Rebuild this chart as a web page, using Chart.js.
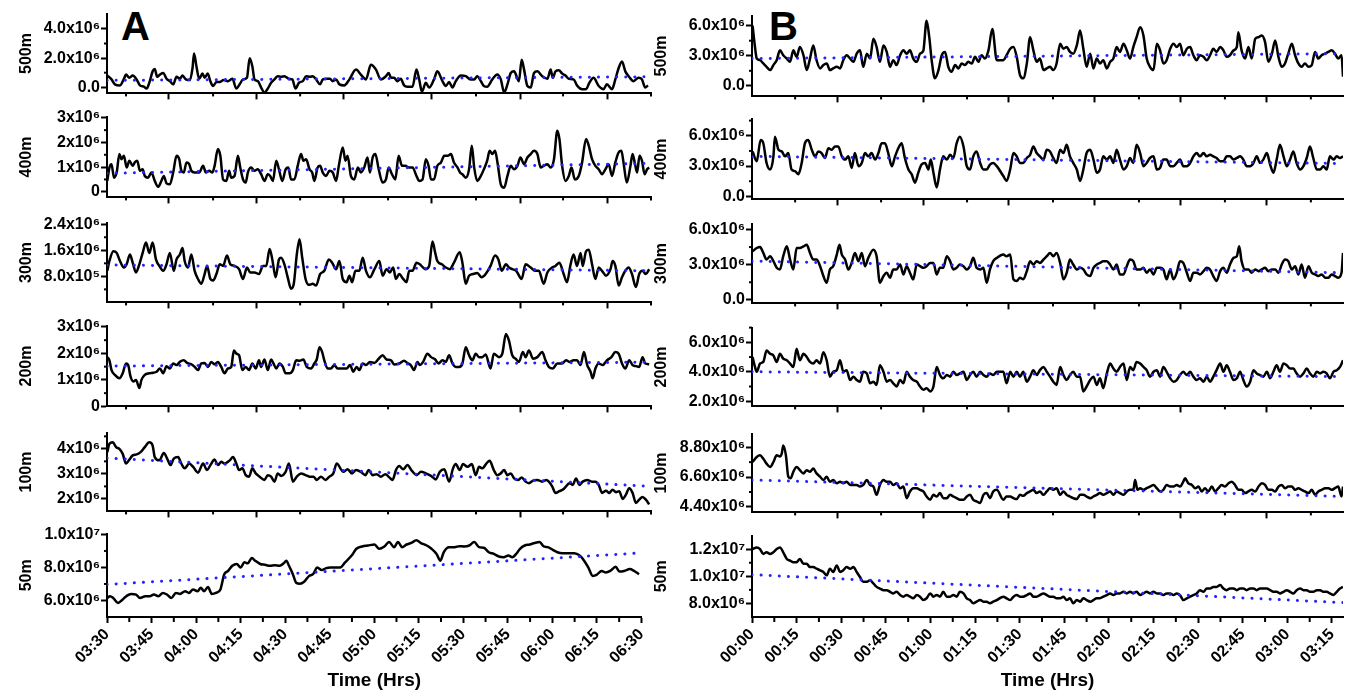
<!DOCTYPE html>
<html lang="en">
<head>
<meta charset="UTF-8">
<title>Profiles A / B</title>
<script src="https://cdn.jsdelivr.net/npm/chart.js@4.4.1/dist/chart.umd.min.js"></script>
<style>
  body { margin: 0; background: #fff; width: 1350px; height: 692px; position: relative; overflow: hidden; }
  canvas { position: absolute; }
  .tag { position: absolute; font: bold 40px "Liberation Sans", Arial, sans-serif; line-height: 40px; color: #000; }
</style>
</head>
<body>
<div class="tag" style="left:121px;top:6px">A</div>
<div class="tag" style="left:769px;top:6px">B</div>
<script>
// values are in units of 10^6, time in minutes from the start of each record
const timesA = ['03:30','03:45','04:00','04:15','04:30','04:45','05:00','05:15','05:30','05:45','06:00','06:15','06:30'];
const timesB = ['00:00','00:15','00:30','00:45','01:00','01:15','01:30','01:45','02:00','02:15','02:30','02:45','03:00','03:15'];

// tick marks on the unlabelled time axes of the upper panels
const upperLongA = [20.5, 49.6, 78.4, 107.5, 136.7, 165.7];
const upperShortA = [6.3, 35.1, 63.9, 93.0, 122.1, 150.9, 180];
const upperLongB = [28.9, 57.8, 86.4, 115.3, 144.2, 173.1];
const upperShortB = [14.5, 43.4, 72.3, 101.2, 130.1, 159.0, 187.9];

// ---- column A ----
const a500 = [[0.1,0.80],[1.5,0.54],[2.6,0.20],[4.3,0.13],[5.6,0.58],[6.3,0.87],[7.4,0.65],[8.5,0.80],[9.8,0.54],[10.9,0.13],[12.2,0.04],[13.1,-0.09],[14.0,0.31],[15.1,1.09],[15.8,1.25],[16.6,0.72],[17.5,0.87],[18.6,0.98],[19.7,0.58],[20.8,0.42],[21.9,0.20],[23.0,0.72],[24.1,0.58],[25.0,0.80],[26.1,0.54],[27.4,0.49],[28.3,1.32],[28.8,2.32],[29.6,1.43],[30.5,0.58],[31.6,0.94],[32.3,0.65],[33.3,0.94],[34.2,0.42],[35.1,0.09],[36.2,0.36],[37.3,0.36],[38.6,0.49],[40.0,0.42],[41.5,0.58],[42.8,-0.09],[43.9,0.20],[45.0,0.54],[46.3,0.65],[47.2,1.99],[48.1,1.43],[48.8,0.54],[49.9,0.42],[51.0,-0.02],[52.1,-0.36],[53.2,-0.09],[54.3,0.31],[55.4,0.54],[56.5,0.76],[57.6,0.72],[58.7,0.76],[60.2,0.58],[61.3,0.54],[62.4,-0.09],[63.5,0.31],[64.8,0.42],[65.9,0.76],[67.2,0.72],[68.1,0.76],[69.2,0.54],[70.5,0.20],[71.4,0.54],[72.5,0.58],[73.8,0.58],[74.7,0.42],[75.8,0.54],[76.9,0.20],[78.5,0.13],[80.2,0.54],[82.4,1.21],[84.0,0.87],[85.7,0.54],[87.3,1.54],[89.0,1.21],[90.6,0.54],[92.3,0.76],[93.2,0.98],[94.0,0.65],[95.0,0.65],[96.1,0.42],[97.2,0.58],[98.3,0.13],[99.4,0.04],[101.1,0.04],[102.4,1.21],[103.3,0.54],[104.2,-0.31],[105.5,0.31],[106.6,-0.02],[108.2,0.54],[109.3,1.09],[111.0,0.42],[112.1,0.09],[113.2,0.36],[114.3,-0.02],[115.4,0.42],[117.1,0.80],[118.7,0.76],[120.3,0.54],[121.5,0.54],[122.5,0.76],[123.7,0.42],[124.7,0.09],[125.8,0.04],[127.5,0.54],[129.1,0.87],[130.3,0.54],[131.4,-0.36],[132.5,0.20],[133.6,0.98],[134.7,1.09],[136.3,0.42],[137.2,1.88],[138.0,1.21],[139.1,0.09],[140.2,-0.02],[141.3,0.98],[142.4,1.09],[144.0,0.76],[145.7,0.58],[146.8,1.21],[147.5,0.65],[148.4,1.09],[149.5,1.16],[150.6,0.94],[151.7,0.80],[152.8,0.58],[154.4,0.54],[155.5,0.13],[157.2,-0.13],[158.5,-0.13],[159.6,0.31],[161.0,0.65],[162.7,0.09],[164.3,-0.13],[165.4,0.20],[167.1,-0.13],[168.2,0.54],[169.3,1.32],[170.4,1.77],[171.5,1.09],[172.6,0.76],[174.2,0.42],[175.9,0.65],[177.0,0.54],[178.1,-0.02],[179.0,0.13]];
const a500Trend = [[0, 0.47], [180, 0.72]];

const a400 = [[0.1,0.44],[0.8,0.98],[1.5,1.12],[2.3,0.57],[3.2,0.78],[4.1,1.53],[4.8,1.32],[5.6,1.46],[6.5,0.98],[7.4,1.26],[8.5,1.05],[9.2,1.19],[10.0,1.26],[10.9,0.85],[11.8,0.91],[12.5,0.64],[13.6,0.57],[14.7,0.78],[15.8,0.44],[16.9,0.20],[18.0,0.44],[18.8,0.64],[19.7,0.34],[20.8,0.30],[21.9,0.78],[23.0,1.46],[23.9,1.32],[24.6,0.85],[25.4,0.78],[26.3,1.19],[27.2,1.12],[27.9,0.85],[29.0,0.78],[30.5,0.78],[31.8,1.05],[32.7,0.78],[33.8,0.85],[34.9,0.78],[35.6,1.05],[36.7,1.73],[37.5,1.46],[38.4,0.50],[39.5,0.44],[40.4,0.85],[41.1,0.57],[42.2,0.64],[43.3,1.46],[44.1,0.98],[45.0,0.50],[45.9,0.37],[46.6,0.78],[47.7,0.98],[48.8,0.85],[49.9,0.91],[51.0,0.71],[52.1,0.44],[53.2,0.71],[54.0,0.64],[54.9,0.44],[56.0,1.26],[56.9,0.91],[58.0,0.44],[59.1,0.91],[60.0,0.98],[60.9,0.50],[62.0,0.50],[63.1,1.05],[64.2,1.53],[65.0,1.26],[65.9,1.32],[67.0,0.91],[67.9,0.78],[68.6,0.44],[69.7,0.98],[70.5,1.05],[71.4,0.78],[72.5,0.64],[73.6,0.85],[74.7,0.78],[75.8,0.44],[76.7,1.05],[78.0,1.80],[78.9,1.26],[79.6,1.46],[80.7,0.64],[81.8,0.50],[83.0,0.98],[84.0,0.78],[85.1,0.98],[86.2,1.39],[87.0,0.78],[87.9,1.39],[88.8,1.53],[89.9,0.91],[91.2,0.37],[92.3,0.50],[93.2,0.98],[94.3,0.71],[95.4,0.50],[96.5,1.46],[97.6,1.05],[98.7,1.05],[100.0,0.98],[101.1,0.98],[102.4,0.64],[103.3,0.44],[104.4,0.50],[105.5,1.32],[106.4,1.05],[107.2,0.50],[108.2,0.50],[109.3,1.05],[110.5,1.19],[111.6,1.46],[112.7,1.46],[113.8,1.53],[114.8,1.19],[116.0,0.98],[116.8,0.78],[117.6,0.71],[118.7,0.57],[119.8,0.91],[120.7,1.87],[121.5,0.98],[122.5,0.44],[123.7,0.64],[124.7,0.91],[125.8,1.26],[126.6,1.66],[127.5,1.53],[128.4,1.66],[129.2,1.19],[130.3,0.30],[131.4,0.16],[132.5,0.64],[133.6,1.05],[134.7,0.91],[135.8,1.05],[136.8,1.39],[138.0,1.12],[139.1,1.39],[140.2,1.53],[141.3,1.66],[142.4,1.53],[143.5,0.98],[144.5,1.05],[145.7,1.12],[146.8,0.98],[147.9,1.32],[149.0,2.48],[149.7,2.14],[150.6,1.05],[151.7,0.44],[152.8,0.64],[153.7,0.98],[154.8,0.50],[156.1,0.64],[157.2,1.19],[158.5,2.14],[159.4,1.87],[160.5,1.32],[161.6,1.05],[162.7,0.91],[163.8,0.71],[164.9,0.91],[166.0,1.12],[167.1,0.64],[168.2,1.19],[169.3,1.60],[170.2,1.66],[170.9,1.19],[172.0,0.37],[173.2,1.05],[173.9,1.53],[174.6,1.19],[175.4,0.78],[176.2,1.46],[177.0,1.26],[177.9,0.71],[178.7,0.91],[179.4,0.98]];
const a400Trend = [[0, 0.75], [180, 1.15]];

const a300 = [[0.1,0.97],[0.8,1.27],[2.1,1.57],[3.2,1.52],[4.3,1.27],[5.6,1.07],[6.5,1.17],[7.6,1.47],[8.5,1.22],[9.6,0.92],[10.7,1.17],[11.8,1.52],[12.9,1.84],[14.0,1.52],[15.1,1.84],[16.2,1.32],[17.3,1.12],[18.6,0.97],[19.7,1.17],[20.8,1.52],[22.1,0.97],[23.0,1.32],[24.1,1.47],[25.0,1.67],[25.7,1.27],[26.8,1.07],[27.9,1.47],[29.0,0.97],[30.1,0.72],[31.2,0.57],[32.3,0.87],[33.1,1.12],[34.2,0.72],[35.1,0.67],[36.2,0.87],[37.3,1.17],[38.4,1.12],[39.7,1.44],[40.8,1.17],[42.2,1.12],[43.7,1.02],[45.0,0.72],[46.3,1.07],[47.4,0.92],[48.8,0.92],[50.3,0.87],[51.6,1.12],[52.7,1.12],[53.8,1.64],[54.7,1.32],[55.8,0.77],[56.9,1.32],[57.6,1.37],[58.7,1.17],[59.8,0.77],[60.9,0.42],[61.8,0.57],[62.8,1.47],[63.7,1.94],[64.6,1.37],[65.7,0.72],[66.8,0.54],[68.1,0.57],[69.2,0.52],[70.5,0.87],[71.9,0.97],[73.4,1.32],[74.5,1.22],[75.8,1.02],[76.9,1.27],[78.0,0.72],[79.3,0.62],[80.2,0.82],[81.1,0.62],[82.2,0.97],[83.5,0.97],[84.6,1.37],[85.7,0.97],[87.0,0.77],[88.5,1.02],[90.1,1.27],[91.2,0.82],[92.5,1.02],[93.6,0.92],[94.7,1.07],[95.6,0.72],[96.7,0.87],[98.0,0.72],[99.1,0.62],[100.0,0.97],[101.1,0.97],[102.4,1.22],[103.5,1.17],[104.6,1.07],[105.5,1.02],[106.6,1.12],[107.7,1.87],[108.6,1.52],[109.3,1.27],[110.8,1.17],[112.1,1.07],[113.4,1.02],[114.8,1.22],[116.7,1.54],[117.6,1.22],[118.7,0.57],[119.8,0.82],[121.1,0.87],[122.5,0.90],[124.0,0.77],[125.3,0.87],[126.9,1.12],[128.4,1.44],[129.5,1.32],[130.6,0.97],[132.0,1.17],[133.0,1.07],[134.1,1.02],[135.4,0.97],[137.2,0.72],[138.5,1.17],[140.2,1.07],[141.6,0.97],[142.9,0.97],[144.5,0.57],[145.7,0.92],[147.3,1.07],[148.4,1.12],[149.7,1.22],[151.1,0.87],[152.2,0.62],[153.4,1.17],[154.4,1.47],[155.5,1.12],[156.7,1.52],[157.4,1.12],[158.5,1.57],[159.4,1.62],[160.5,1.17],[161.6,0.72],[162.7,1.07],[163.8,0.97],[165.1,0.82],[166.6,1.02],[167.3,1.27],[168.2,1.12],[169.3,0.52],[170.4,0.77],[171.5,0.97],[172.6,1.07],[173.7,0.87],[175.0,0.47],[176.1,0.87],[177.2,0.97],[178.3,0.87],[179.4,1.02]];
const a300Trend = [[0, 1.15], [180, 0.97]];

const a200 = [[0.1,1.86],[0.8,1.74],[1.5,1.37],[2.6,1.19],[4.1,1.06],[5.2,1.25],[6.3,1.62],[7.0,1.56],[7.8,1.12],[8.7,0.94],[9.6,1.00],[10.7,0.69],[11.4,1.00],[12.5,1.19],[14.0,1.25],[15.3,1.27],[16.4,1.31],[17.5,1.43],[18.6,1.25],[19.7,1.52],[20.8,1.43],[21.9,1.62],[23.0,1.56],[24.1,1.68],[25.4,1.74],[26.5,1.64],[27.9,1.59],[29.0,1.49],[30.1,1.37],[31.2,1.62],[32.3,1.64],[33.4,1.49],[34.5,1.68],[35.6,1.59],[36.7,1.68],[37.8,1.49],[38.9,1.25],[40.0,1.43],[41.1,1.49],[42.0,2.11],[42.8,1.99],[43.7,1.93],[44.8,1.37],[45.9,1.49],[47.0,1.37],[48.1,1.62],[49.2,1.43],[50.3,1.74],[51.0,1.49],[52.1,1.77],[53.2,1.37],[54.3,1.77],[55.1,1.62],[56.0,1.43],[57.1,1.62],[58.2,1.49],[59.1,1.25],[60.4,1.25],[61.5,1.37],[62.6,1.74],[63.7,1.72],[65.0,1.77],[66.1,1.49],[67.5,1.43],[68.6,1.62],[69.4,1.77],[70.3,2.23],[71.2,2.05],[71.9,1.74],[73.0,1.43],[74.1,1.43],[75.2,1.56],[76.3,1.43],[78.0,1.43],[79.3,1.43],[80.4,1.56],[81.5,1.31],[82.6,1.49],[83.5,1.37],[84.6,1.62],[85.7,1.56],[87.0,1.68],[88.5,1.64],[89.9,1.80],[91.2,1.93],[92.5,1.77],[94.0,1.74],[95.0,1.58],[96.7,1.62],[98.3,1.72],[99.4,1.64],[100.5,1.56],[101.6,1.37],[102.7,1.68],[103.5,1.56],[104.6,1.68],[106.0,1.99],[107.2,1.86],[108.6,1.77],[109.7,1.62],[111.0,1.74],[112.1,1.68],[113.2,1.93],[114.3,1.62],[115.4,1.49],[116.5,1.49],[117.6,1.62],[118.7,2.23],[119.8,1.93],[120.9,1.74],[122.0,1.99],[123.1,1.86],[124.2,1.86],[125.3,1.96],[126.9,1.43],[128.0,1.99],[129.7,1.86],[130.8,1.99],[132.0,2.73],[133.0,2.48],[134.1,1.93],[135.2,1.80],[136.3,1.68],[137.6,2.05],[138.5,1.86],[139.6,2.11],[141.0,1.80],[142.4,1.86],[144.0,2.05],[145.1,1.74],[146.2,1.49],[147.5,1.43],[149.0,1.62],[150.6,1.62],[151.9,1.74],[153.0,1.68],[154.4,1.74],[155.5,1.74],[156.7,1.56],[157.8,2.05],[158.9,1.56],[160.0,1.31],[160.7,1.06],[161.6,1.43],[162.7,1.62],[164.0,1.56],[165.4,1.74],[166.9,1.86],[168.2,2.05],[169.3,1.99],[170.4,1.62],[171.5,1.43],[172.8,1.74],[173.9,1.56],[175.0,1.52],[176.1,1.49],[177.2,1.86],[178.1,1.62],[179.4,1.59]];
const a200Trend = [[0, 1.52], [180, 1.67]];

const a100 = [[0.1,3.87],[0.8,4.20],[1.9,4.26],[3.0,4.07],[4.1,4.00],[5.2,3.80],[6.3,3.41],[7.4,3.57],[8.5,3.74],[9.8,3.78],[11.1,3.87],[12.5,4.07],[14.0,4.26],[15.1,4.13],[15.8,3.67],[17.3,3.54],[18.8,3.83],[19.9,3.61],[21.0,3.35],[22.1,3.61],[23.5,3.67],[24.6,3.41],[25.7,3.22],[27.2,3.41],[28.5,3.28],[30.1,3.05],[31.8,3.41],[33.1,3.15],[34.2,3.35],[35.6,3.57],[36.7,3.35],[37.8,3.48],[38.9,3.41],[40.6,3.54],[41.7,3.67],[42.8,3.41],[43.7,3.15],[44.8,3.22],[45.9,2.95],[47.0,2.89],[48.1,3.22],[49.2,3.02],[50.5,2.89],[52.1,2.76],[53.2,2.95],[54.3,2.89],[55.4,2.69],[56.5,3.02],[57.6,2.92],[59.1,3.08],[60.2,3.41],[61.5,2.69],[62.8,2.89],[64.2,3.02],[65.7,2.95],[67.0,2.89],[68.3,2.89],[69.4,2.76],[70.8,2.89],[72.3,2.76],[73.6,2.89],[74.9,3.02],[76.0,3.41],[78.2,3.08],[79.6,3.18],[81.1,3.02],[82.4,3.15],[84.0,3.08],[85.5,2.95],[86.6,3.15],[87.9,2.95],[89.2,2.99],[90.6,2.89],[92.1,2.99],[93.4,2.86],[94.5,2.76],[95.6,3.15],[96.7,3.31],[98.0,3.18],[99.4,3.35],[100.9,3.12],[102.4,2.95],[103.9,3.08],[105.5,3.02],[107.2,2.92],[108.8,2.78],[110.1,3.08],[111.6,3.18],[113.2,2.69],[114.5,3.22],[115.4,3.39],[116.7,3.15],[117.8,3.39],[119.3,3.28],[120.7,3.39],[122.0,2.95],[123.1,3.28],[124.2,3.22],[125.5,3.41],[126.6,3.52],[128.0,3.15],[129.1,2.95],[130.3,3.02],[131.4,3.15],[132.5,2.95],[133.6,3.02],[134.7,2.82],[136.1,2.76],[137.2,2.86],[138.5,2.69],[139.6,2.63],[141.0,2.73],[142.4,2.76],[144.0,2.69],[145.4,2.76],[146.2,2.69],[147.3,2.50],[148.4,2.24],[149.7,2.31],[150.8,2.37],[151.9,2.50],[153.0,2.63],[154.1,2.56],[155.2,2.82],[156.3,2.56],[157.4,2.69],[158.9,2.76],[160.5,2.69],[161.6,2.69],[162.7,2.56],[163.8,2.24],[165.1,2.33],[166.2,2.24],[167.3,2.37],[168.4,2.27],[169.5,2.31],[170.6,2.00],[171.7,2.17],[172.8,2.43],[173.9,2.24],[175.0,1.84],[176.1,1.97],[177.2,2.08],[178.3,1.97],[179.4,1.78]];
const a100Trend = [[0, 3.63], [180, 2.50]];

const a50 = [[0.1,6.15],[1.0,6.26],[2.1,6.15],[3.7,5.85],[5.2,6.05],[6.5,6.26],[8.1,6.40],[9.8,6.36],[11.1,6.15],[12.9,6.26],[14.4,6.26],[15.8,6.36],[17.3,6.26],[18.8,6.46],[20.2,6.36],[21.7,6.15],[23.2,6.46],[24.6,6.40],[26.3,6.56],[27.6,6.46],[29.0,6.67],[30.5,6.56],[31.6,6.77],[32.7,6.56],[34.0,6.81],[35.3,6.40],[36.7,6.46],[38.2,6.67],[39.5,7.59],[40.8,7.79],[42.2,8.10],[43.7,8.21],[45.0,8.00],[46.3,8.31],[47.4,8.25],[48.8,8.57],[49.9,8.41],[51.6,8.21],[53.2,8.16],[54.9,8.10],[56.5,8.14],[58.2,8.10],[59.5,8.25],[60.4,8.41],[61.3,8.10],[62.6,7.59],[63.7,7.08],[65.0,7.02],[66.4,7.14],[68.1,7.49],[69.4,7.59],[70.8,8.00],[72.3,7.84],[73.8,7.96],[75.2,8.00],[76.9,8.00],[78.5,8.00],[80.2,8.31],[82.4,8.72],[84.0,9.13],[85.9,9.27],[87.9,9.33],[90.1,9.39],[91.7,9.13],[93.4,9.27],[95.0,9.54],[96.7,9.23],[98.0,9.54],[99.4,9.23],[100.9,9.39],[102.4,9.48],[104.2,9.64],[105.7,9.48],[107.7,9.33],[109.3,9.13],[111.0,8.82],[112.3,8.41],[113.4,8.92],[115.2,9.23],[117.1,9.23],[118.7,9.29],[120.3,9.27],[122.0,9.33],[123.7,9.54],[125.3,9.23],[126.9,9.19],[128.6,8.92],[130.3,8.82],[132.0,8.66],[133.6,8.62],[135.2,8.72],[136.5,8.62],[138.0,8.86],[139.1,9.13],[140.7,9.33],[142.4,9.39],[144.0,9.48],[145.7,9.54],[147.1,9.27],[148.4,9.23],[150.1,9.07],[151.7,8.92],[153.4,8.86],[155.5,8.86],[157.4,8.86],[159.2,8.72],[160.7,8.41],[162.1,8.00],[163.6,7.49],[164.9,7.55],[166.6,7.79],[168.0,7.69],[169.5,7.79],[171.3,8.04],[172.6,7.75],[174.2,7.79],[176.1,7.90],[177.5,7.79],[179.2,7.59]];
const a50Trend = [[0, 6.97], [180, 8.88]];

// ---- column B ----
const b500 = [[0.2,6.0],[1.0,3.87],[1.6,2.72],[2.7,2.56],[3.8,2.23],[4.9,1.90],[6.1,1.57],[7.2,2.07],[8.3,2.56],[9.4,3.54],[10.5,3.05],[11.7,2.72],[12.8,2.39],[13.9,3.54],[15.0,2.89],[16.1,3.87],[17.3,3.05],[18.4,1.57],[19.5,2.72],[20.6,4.03],[21.7,2.56],[22.9,1.74],[24.0,2.07],[25.1,2.23],[26.2,1.57],[27.3,1.74],[28.5,1.90],[29.6,1.74],[30.7,2.56],[31.8,3.05],[33.0,2.72],[34.1,2.39],[35.2,3.21],[36.3,3.54],[37.4,1.90],[38.6,3.21],[39.7,2.72],[40.8,4.69],[41.9,3.87],[43.0,2.39],[44.2,4.03],[45.3,3.38],[46.4,1.90],[47.5,2.56],[48.6,2.07],[49.8,3.05],[50.9,3.54],[52.0,3.21],[53.1,3.54],[54.2,2.72],[55.4,2.39],[56.5,3.21],[57.6,3.50],[58.7,6.49],[59.6,4.85],[60.4,2.56],[61.5,0.75],[62.7,1.57],[63.8,3.05],[64.9,3.38],[66.0,1.90],[67.1,1.41],[68.3,2.07],[69.4,1.74],[70.5,2.23],[71.6,2.07],[72.7,2.39],[73.9,2.23],[75.0,2.89],[76.1,2.39],[77.2,3.05],[78.3,2.72],[79.5,3.54],[80.8,5.67],[82.3,2.56],[84.5,2.56],[85.6,3.05],[86.8,3.70],[87.9,3.87],[89.0,2.89],[90.1,1.08],[91.2,0.75],[92.4,2.23],[93.5,4.85],[94.6,3.54],[95.7,2.39],[96.8,2.72],[98.0,1.57],[99.1,1.74],[100.2,1.90],[101.3,1.57],[102.4,2.23],[103.6,4.20],[104.7,3.70],[105.8,3.87],[106.9,3.38],[108.0,3.21],[109.2,4.03],[110.3,5.51],[111.4,3.70],[112.5,1.90],[113.7,3.21],[114.8,1.74],[115.9,2.72],[117.0,2.23],[118.1,2.56],[119.3,1.74],[120.4,2.39],[121.5,2.72],[122.6,3.87],[123.7,3.38],[124.9,4.20],[126.0,3.54],[127.1,2.72],[128.2,3.87],[129.3,4.85],[130.5,5.84],[131.6,5.02],[132.7,2.72],[133.8,1.90],[135.0,1.57],[136.1,4.20],[137.2,3.54],[138.3,2.23],[139.4,2.56],[140.6,3.70],[141.7,4.20],[142.8,3.87],[143.9,4.20],[145.0,3.05],[146.2,3.70],[147.3,3.87],[148.4,3.05],[149.5,2.56],[150.6,3.05],[151.8,2.89],[152.9,2.56],[154.0,3.05],[155.1,3.70],[156.2,3.38],[157.4,3.87],[158.5,3.54],[159.6,2.89],[160.7,3.05],[161.9,3.54],[163.0,3.87],[163.5,5.34],[164.6,3.54],[165.8,2.72],[166.9,3.87],[168.0,2.72],[169.2,4.69],[170.3,4.85],[171.4,5.02],[172.5,4.36],[173.6,2.39],[174.8,3.21],[175.9,4.52],[177.0,2.89],[178.1,1.90],[179.2,2.23],[180.3,3.21],[181.5,4.20],[182.6,3.05],[183.7,2.23],[184.8,1.90],[185.9,2.23],[187.1,1.90],[188.2,2.07],[189.3,3.38],[190.4,2.72],[191.5,3.05],[192.7,3.21],[193.8,3.38],[194.9,3.54],[196.0,3.21],[197.1,2.72],[198.2,3.05],[198.7,0.92]];
const b500Trend = [[0, 2.72], [198.7, 3.21]];

const b400 = [[0.2,4.45],[1.6,3.47],[2.9,5.58],[3.8,5.26],[4.9,3.31],[6.1,2.66],[7.2,3.96],[7.7,5.91],[8.9,4.61],[10.0,4.45],[11.1,3.96],[12.2,4.29],[13.3,2.66],[14.5,2.50],[15.6,2.18],[16.7,3.31],[17.8,5.26],[18.9,5.58],[20.1,4.61],[21.2,3.96],[22.3,4.45],[23.4,4.29],[24.5,3.80],[25.7,4.77],[26.8,4.61],[27.9,4.94],[29.0,4.94],[30.2,3.96],[31.3,3.64],[32.4,3.96],[33.5,2.82],[34.6,4.29],[35.8,2.99],[36.9,3.31],[38.0,4.29],[39.1,3.96],[40.2,4.29],[41.4,3.64],[42.5,4.29],[43.6,5.26],[44.7,5.26],[45.8,4.29],[47.0,2.99],[48.1,3.96],[49.2,4.77],[50.3,5.26],[51.4,3.80],[52.6,2.66],[53.7,2.18],[54.8,1.36],[55.9,2.34],[57.0,3.15],[58.2,3.31],[59.3,2.66],[60.1,3.64],[61.0,2.34],[62.1,0.88],[63.2,2.66],[64.3,3.96],[65.5,3.64],[66.6,4.12],[67.7,3.80],[68.8,5.26],[69.9,5.91],[71.1,4.94],[72.2,2.99],[73.3,2.66],[74.4,3.96],[75.5,4.45],[76.7,3.31],[77.8,2.66],[78.9,2.66],[80.0,3.15],[81.1,3.31],[82.3,2.99],[84.5,2.01],[85.6,1.53],[86.8,2.66],[87.9,4.29],[89.0,3.96],[90.1,3.31],[91.2,3.31],[92.4,3.80],[93.5,4.12],[94.6,4.94],[95.7,4.29],[96.8,3.96],[98.0,3.64],[99.1,4.61],[100.2,4.45],[101.3,3.80],[102.4,3.31],[103.6,4.61],[104.7,4.29],[105.8,5.10],[106.9,3.96],[108.0,3.31],[109.2,2.66],[110.3,1.53],[111.4,2.66],[112.5,4.29],[113.7,4.61],[114.8,3.64],[115.9,2.34],[117.0,2.66],[118.1,3.96],[119.3,3.64],[120.4,3.96],[121.5,3.31],[122.6,4.61],[123.7,3.64],[124.9,2.66],[126.0,2.99],[127.1,3.80],[128.2,3.31],[129.3,5.10],[130.5,4.29],[131.6,2.99],[132.7,3.31],[133.8,3.80],[135.0,3.96],[136.1,2.66],[137.2,2.82],[138.3,3.64],[139.4,3.64],[140.6,2.99],[141.7,2.99],[142.8,3.31],[143.9,3.64],[145.0,2.99],[146.2,2.99],[147.3,3.31],[148.4,3.96],[149.5,4.29],[150.6,3.96],[151.8,4.29],[152.9,3.96],[154.0,4.12],[155.1,3.96],[156.2,3.80],[157.4,3.47],[158.5,3.47],[159.6,3.96],[160.7,3.96],[161.9,3.64],[163.0,3.80],[164.1,3.96],[165.2,3.64],[166.3,2.99],[167.5,2.99],[168.6,3.31],[169.7,3.96],[170.8,3.31],[171.9,3.64],[173.1,4.29],[174.2,3.15],[175.3,2.34],[176.4,3.64],[177.5,5.10],[178.7,3.96],[179.8,2.99],[180.9,3.64],[182.0,4.45],[183.1,3.31],[184.3,2.66],[185.4,2.99],[186.5,3.80],[187.6,4.94],[188.7,3.80],[189.9,2.66],[191.0,2.66],[192.1,2.99],[193.2,2.66],[194.3,3.96],[195.5,3.64],[196.6,3.96],[197.7,3.80],[198.7,3.96]];
const b400Trend = [[0, 3.96], [198.7, 3.25]];

const b300 = [[0.2,4.14],[1.6,4.42],[2.7,4.51],[3.8,4.00],[4.9,3.44],[6.1,3.72],[7.2,3.30],[8.3,2.73],[9.4,2.59],[10.5,3.72],[11.7,4.56],[12.8,3.44],[13.9,2.59],[15.0,4.42],[16.1,4.42],[17.3,4.56],[18.4,4.70],[19.5,4.00],[20.6,3.44],[21.7,3.44],[22.9,2.87],[24.0,2.03],[25.1,1.46],[26.2,2.59],[27.3,2.87],[28.5,3.86],[29.4,4.70],[30.2,3.86],[31.3,3.44],[32.4,2.59],[33.5,3.15],[34.6,4.00],[35.8,3.30],[36.9,4.00],[38.0,2.87],[39.1,3.58],[40.8,4.28],[41.9,3.72],[43.0,1.46],[44.2,2.03],[45.3,2.31],[46.4,1.89],[47.5,2.59],[48.6,2.59],[49.8,3.01],[50.9,2.17],[52.0,2.87],[53.1,2.31],[54.2,1.75],[55.4,3.01],[56.5,2.87],[57.6,2.73],[58.7,2.87],[59.9,3.15],[61.0,3.15],[62.1,2.17],[63.2,2.73],[64.3,2.73],[65.5,3.72],[66.6,3.30],[67.7,2.59],[68.8,2.73],[69.9,3.01],[71.1,2.87],[72.2,2.59],[73.3,2.87],[74.4,3.58],[75.5,2.73],[76.7,2.59],[77.8,2.73],[78.9,1.46],[80.0,2.59],[81.1,3.30],[82.3,3.58],[84.5,3.86],[85.6,3.72],[86.8,3.86],[87.9,1.75],[89.0,1.61],[90.1,1.89],[91.2,1.75],[92.4,2.45],[93.5,3.30],[94.6,3.01],[95.7,3.30],[96.8,3.15],[98.0,3.44],[99.1,3.72],[100.2,4.00],[101.3,3.72],[102.4,4.00],[103.6,3.15],[104.7,1.75],[105.8,2.31],[106.9,3.44],[108.0,3.01],[109.2,2.59],[110.3,2.73],[111.4,2.59],[112.5,2.17],[113.7,2.03],[114.8,2.73],[115.9,3.01],[117.0,3.15],[118.1,3.30],[119.3,3.30],[120.4,3.01],[121.5,2.59],[122.6,3.01],[123.7,2.17],[124.9,2.17],[126.0,2.87],[127.1,3.44],[128.2,3.30],[129.3,2.59],[130.5,2.59],[131.6,2.73],[132.7,2.31],[133.8,2.59],[135.0,2.17],[136.1,2.73],[137.2,2.73],[138.3,2.59],[139.4,1.75],[140.6,2.59],[141.7,1.75],[142.8,2.31],[143.9,3.30],[145.0,3.15],[146.2,2.31],[147.3,1.61],[148.4,2.31],[149.5,2.31],[150.6,2.17],[151.8,2.45],[152.9,2.73],[154.0,2.59],[155.1,2.03],[156.2,1.61],[157.4,2.45],[158.5,2.73],[159.6,2.31],[160.7,3.01],[161.9,3.58],[163.0,3.72],[163.8,4.56],[164.6,3.30],[165.8,2.59],[166.9,2.59],[168.0,2.31],[169.2,2.59],[170.3,2.45],[171.4,2.59],[172.5,2.73],[173.6,2.45],[174.8,2.59],[175.9,2.59],[177.0,2.31],[178.1,3.01],[179.2,3.44],[180.3,3.30],[181.5,2.59],[182.6,2.87],[183.7,2.17],[184.8,3.01],[185.9,1.89],[187.1,2.87],[188.2,2.31],[189.3,2.17],[190.4,2.03],[191.5,2.17],[192.7,1.89],[193.8,1.89],[194.9,2.17],[196.0,2.03],[197.1,1.89],[198.2,2.31],[198.7,4.00]];
const b300Trend = [[0, 3.30], [198.7, 2.31]];

const b200 = [[0.2,5.0],[1.0,4.33],[1.6,4.0],[2.7,4.56],[3.8,4.67],[4.9,5.44],[6.1,5.22],[7.2,5.11],[8.3,4.67],[9.4,5.22],[10.5,4.89],[11.7,4.78],[12.8,4.56],[13.9,4.33],[15.0,5.56],[16.1,4.78],[17.3,5.22],[18.4,5.0],[19.5,4.67],[20.6,4.56],[21.7,4.78],[22.9,4.56],[24.0,5.33],[25.1,4.78],[26.2,3.67],[27.3,4.0],[28.5,4.11],[29.6,4.78],[30.7,4.0],[31.8,4.11],[33.0,3.44],[34.1,3.67],[35.2,3.44],[36.3,3.33],[37.4,4.0],[38.6,3.89],[39.7,3.22],[40.8,3.33],[41.9,3.11],[43.0,4.44],[44.2,4.0],[45.3,3.33],[46.4,3.44],[47.5,3.22],[48.6,3.0],[49.8,3.44],[50.9,3.22],[52.0,4.0],[53.1,3.67],[54.2,3.44],[55.4,3.33],[56.5,3.0],[57.6,2.78],[58.7,2.89],[59.9,2.67],[61.0,3.0],[62.1,4.33],[63.2,3.78],[64.3,3.56],[65.5,3.78],[66.6,3.67],[67.7,4.0],[68.8,3.78],[69.9,3.89],[71.1,4.0],[72.2,3.44],[73.3,3.78],[74.4,4.0],[75.5,3.67],[76.7,4.0],[77.8,3.78],[78.9,3.67],[80.0,3.89],[81.1,3.78],[82.3,4.0],[84.5,4.0],[85.6,3.22],[86.8,4.0],[87.9,3.67],[89.0,4.0],[90.1,3.67],[91.2,4.0],[92.4,3.33],[93.5,3.67],[94.6,4.11],[95.7,3.78],[96.8,4.11],[98.0,4.33],[99.1,4.0],[100.2,3.67],[101.3,3.33],[102.4,3.11],[103.6,4.33],[104.7,3.78],[105.8,3.44],[106.9,3.78],[108.0,4.0],[109.2,3.67],[110.3,3.67],[111.4,2.67],[112.5,3.0],[113.7,3.44],[114.8,3.67],[115.9,3.11],[117.0,3.56],[118.1,2.89],[119.3,3.89],[120.4,4.56],[121.5,4.22],[122.6,4.0],[123.7,4.33],[124.9,4.56],[126.0,3.44],[127.1,4.33],[128.2,4.11],[129.3,4.67],[130.5,4.56],[131.6,4.33],[132.7,4.11],[133.8,3.67],[135.0,4.0],[136.1,4.11],[137.2,3.67],[138.3,4.33],[139.4,4.0],[140.6,3.56],[141.7,3.33],[142.8,3.44],[143.9,3.78],[145.0,4.0],[146.2,3.78],[147.3,4.0],[148.4,3.67],[149.5,3.44],[150.6,3.56],[151.8,3.33],[152.9,3.67],[154.0,3.33],[155.1,3.67],[156.2,4.11],[157.4,4.56],[158.5,4.0],[159.6,4.44],[160.7,4.0],[161.9,3.44],[163.0,3.56],[164.1,4.0],[165.2,3.44],[166.3,3.0],[167.5,3.33],[168.6,4.11],[169.7,3.89],[170.8,3.78],[171.9,3.67],[173.1,4.0],[174.2,3.56],[175.3,4.0],[176.4,4.44],[177.5,4.0],[178.7,4.56],[179.8,4.44],[180.9,4.22],[182.0,4.22],[183.1,3.89],[184.3,3.67],[185.4,3.89],[186.5,4.22],[187.6,3.89],[188.7,3.67],[189.9,4.0],[191.0,3.89],[192.1,4.0],[193.2,3.89],[194.3,3.56],[195.5,4.0],[196.6,4.11],[197.7,4.33],[198.7,4.78]];
const b200Trend = [[0, 4.0], [198.7, 3.67]];

const b100 = [[0.2,7.71],[1.6,8.08],[2.7,8.20],[3.8,7.95],[4.9,7.59],[6.1,7.35],[7.2,7.71],[8.3,8.20],[9.4,8.12],[10.0,8.32],[10.5,8.92],[11.4,8.20],[12.2,6.63],[13.0,6.51],[13.9,6.99],[15.0,7.35],[16.1,7.11],[17.3,6.87],[18.4,7.11],[19.5,6.99],[20.6,7.23],[21.7,6.87],[22.9,6.63],[24.0,6.38],[25.1,6.63],[26.2,6.26],[27.3,6.38],[28.5,6.14],[29.6,6.26],[30.7,6.14],[31.8,6.26],[33.0,6.02],[34.1,6.02],[35.2,6.02],[36.3,5.90],[37.4,6.02],[38.6,6.38],[39.7,6.02],[40.8,5.90],[41.9,5.29],[43.0,6.02],[44.2,6.38],[45.3,6.26],[46.4,6.26],[47.5,6.02],[48.6,6.14],[49.8,5.78],[50.9,5.90],[52.0,5.05],[53.1,5.54],[54.2,5.78],[55.4,5.78],[56.5,5.66],[57.6,5.54],[58.7,5.17],[59.9,4.93],[61.0,5.29],[62.1,5.17],[63.2,5.42],[64.3,5.05],[65.5,5.05],[66.6,5.29],[67.7,5.17],[68.8,5.05],[69.9,4.93],[71.1,4.93],[72.2,5.17],[73.3,5.29],[74.4,4.93],[75.5,4.81],[76.7,4.69],[77.8,5.29],[78.9,5.42],[80.0,5.05],[81.1,5.54],[82.3,5.66],[84.5,4.93],[85.6,5.17],[86.8,5.17],[87.9,5.05],[89.0,4.98],[90.1,5.29],[91.2,5.22],[92.4,5.42],[93.5,5.54],[94.6,5.66],[95.7,5.42],[96.8,5.54],[98.0,5.29],[99.1,5.54],[100.2,5.78],[101.3,5.66],[102.4,5.78],[103.6,5.29],[104.7,5.54],[105.8,5.29],[106.9,5.17],[108.0,5.05],[109.2,4.98],[110.3,5.29],[111.4,5.29],[112.5,5.17],[113.7,5.05],[114.8,5.17],[115.9,5.29],[117.0,5.42],[118.1,5.29],[119.3,5.42],[120.4,5.54],[121.5,5.29],[122.6,5.54],[123.7,5.42],[124.9,5.29],[126.0,5.54],[127.1,5.66],[128.2,5.66],[128.8,6.38],[129.6,5.66],[130.5,5.78],[131.6,5.66],[132.7,5.78],[133.8,5.90],[135.0,6.02],[136.1,5.78],[137.2,5.54],[138.3,5.66],[139.4,6.02],[140.6,5.90],[141.7,5.90],[142.8,6.02],[143.9,5.90],[145.0,6.26],[145.6,6.51],[146.7,6.14],[147.9,6.02],[149.0,5.78],[150.1,5.90],[151.2,5.54],[152.3,5.78],[153.4,5.54],[154.6,5.90],[155.7,5.54],[156.8,5.78],[157.9,6.02],[159.0,5.90],[160.2,6.14],[161.3,6.26],[162.4,6.02],[163.5,5.66],[164.6,5.66],[165.8,5.42],[166.9,5.54],[168.0,5.66],[169.2,5.54],[170.3,5.90],[171.4,6.14],[172.5,6.02],[173.6,5.66],[174.8,5.66],[175.9,5.54],[177.0,5.90],[178.1,6.02],[179.2,5.78],[180.3,5.90],[181.5,5.90],[182.6,5.66],[183.7,5.78],[184.8,5.66],[185.9,5.54],[187.1,5.42],[188.2,5.66],[189.3,5.29],[190.4,5.54],[191.5,5.66],[192.7,5.78],[193.8,5.78],[194.9,5.66],[196.0,5.78],[197.1,5.90],[198.2,5.17],[198.7,5.90]];
const b100Trend = [[0, 6.38], [198.7, 5.17]];

const b50 = [[0.2,12.01],[1.6,12.13],[2.7,12.01],[3.8,11.65],[4.9,11.77],[6.1,11.65],[7.2,11.77],[8.3,12.01],[9.4,12.13],[10.5,11.77],[11.7,11.28],[12.8,11.16],[13.9,11.04],[15.0,11.04],[16.1,11.28],[17.3,10.92],[18.4,10.92],[19.5,10.68],[20.6,10.68],[21.7,10.56],[22.9,10.44],[24.0,10.32],[25.1,10.07],[26.2,10.56],[27.3,10.32],[28.5,10.80],[29.6,10.32],[30.7,10.44],[31.8,10.68],[33.0,10.56],[34.1,10.68],[35.2,10.32],[36.3,9.95],[37.4,9.59],[38.6,9.59],[39.7,9.71],[40.8,9.47],[41.9,9.22],[43.0,9.10],[44.2,8.98],[45.3,8.98],[46.4,8.86],[47.5,8.74],[48.6,8.86],[49.8,8.62],[50.9,8.50],[52.0,8.62],[53.1,8.50],[54.2,8.38],[55.4,8.62],[56.5,8.50],[57.6,8.25],[58.7,8.38],[59.9,8.74],[61.0,8.50],[62.1,8.62],[63.2,8.50],[64.3,8.86],[65.5,8.50],[66.6,8.50],[67.7,8.62],[68.8,8.50],[69.9,8.86],[71.1,8.74],[72.2,8.38],[73.3,8.25],[74.4,8.01],[75.5,8.13],[76.7,8.25],[77.8,8.13],[78.9,8.13],[80.0,8.01],[81.1,8.13],[82.3,8.25],[84.5,8.50],[85.6,8.38],[86.8,8.25],[87.9,8.50],[89.0,8.62],[90.1,8.50],[91.2,8.50],[92.4,8.62],[93.5,8.74],[94.6,8.50],[95.7,8.50],[96.8,8.62],[98.0,8.74],[99.1,8.62],[100.2,8.50],[101.3,8.50],[102.4,8.38],[103.6,8.38],[104.7,8.50],[105.8,8.25],[106.9,8.38],[108.0,8.01],[109.2,8.25],[110.3,8.13],[111.4,8.38],[112.5,8.25],[113.7,8.13],[114.8,8.25],[115.9,8.38],[117.0,8.38],[118.1,8.50],[119.3,8.62],[120.4,8.74],[121.5,8.62],[122.6,8.74],[123.7,8.74],[124.9,8.86],[126.0,8.74],[127.1,8.86],[128.2,8.74],[129.3,8.86],[130.5,8.62],[131.6,8.74],[132.7,8.86],[133.8,8.74],[135.0,8.86],[136.1,8.74],[137.2,8.74],[138.3,8.62],[139.4,8.74],[140.6,8.74],[141.7,8.62],[142.8,8.74],[143.9,8.62],[145.0,8.25],[146.2,8.38],[147.3,8.50],[148.4,8.62],[149.5,8.74],[150.6,8.98],[151.8,8.86],[152.9,9.10],[154.0,9.10],[155.1,9.22],[156.2,9.22],[157.4,9.35],[158.5,9.10],[159.6,8.98],[160.7,9.10],[161.9,9.10],[163.0,8.98],[164.1,9.10],[165.2,9.10],[166.3,8.98],[167.5,9.10],[168.6,9.10],[169.7,8.98],[170.8,9.10],[171.9,9.10],[173.1,9.10],[174.2,8.98],[175.3,8.86],[176.4,8.86],[177.5,8.74],[178.7,8.86],[179.8,8.98],[180.9,8.86],[182.0,8.74],[183.1,8.98],[184.3,9.10],[185.4,8.98],[186.5,8.98],[187.6,8.86],[188.7,8.86],[189.9,8.98],[191.0,8.98],[192.1,8.86],[193.2,8.86],[194.3,8.74],[195.5,8.62],[196.6,8.86],[197.7,9.10],[198.7,9.22]];
const b50Trend = [[0, 10.12], [198.7, 8.06]];

// y axes: range, labelled ticks, their labels, unlabelled minor ticks
const a500Axis = { range: [-0.42, 5.05], ticks: [0, 2, 4], labels: ['0.0', '2.0x10⁶', '4.0x10⁶'], minor: [1, 3] };
const a400Axis = { range: [-0.23, 3.05], ticks: [0, 1, 2, 3], labels: ['0', '1x10⁶', '2x10⁶', '3x10⁶'], minor: [0.5, 1.5, 2.5] };
const a300Axis = { range: [0, 2.45], ticks: [0.8, 1.6, 2.4], labels: ['8.0x10⁵', '1.6x10⁶', '2.4x10⁶'], minor: [0.4, 1.2, 2.0] };
const a200Axis = { range: [0, 3.05], ticks: [0, 1, 2, 3], labels: ['0', '1x10⁶', '2x10⁶', '3x10⁶'], minor: [0.5, 1.5, 2.5] };
const a100Axis = { range: [1.5, 4.65], ticks: [2, 3, 4], labels: ['2x10⁶', '3x10⁶', '4x10⁶'], minor: [2.5, 3.5, 4.5] };
const a50Axis = { range: [5, 10.05], ticks: [6, 8, 10], labels: ['6.0x10⁶', '8.0x10⁶', '1.0x10⁷'], minor: [7, 9] };
const b500Axis = { range: [-1.05, 7.0], ticks: [0, 3, 6], labels: ['0.0', '3.0x10⁶', '6.0x10⁶'], minor: [1.5, 4.5] };
const b400Axis = { range: [-0.3, 7.7], ticks: [0, 3, 6], labels: ['0.0', '3.0x10⁶', '6.0x10⁶'], minor: [1.5, 4.5, 7.5] };
const b300Axis = { range: [-0.3, 6.5], ticks: [0, 3, 6], labels: ['0.0', '3.0x10⁶', '6.0x10⁶'], minor: [1.5, 4.5] };
const b200Axis = { range: [1.65, 7.0], ticks: [2, 4, 6], labels: ['2.0x10⁶', '4.0x10⁶', '6.0x10⁶'], minor: [3, 5, 7] };
const b100Axis = { range: [4.0, 9.8], ticks: [4.4, 6.6, 8.8], labels: ['4.40x10⁶', '6.60x10⁶', '8.80x10⁶'], minor: [5.5, 7.7] };
const b50Axis = { range: [7.0, 13.0], ticks: [8, 10, 12], labels: ['8.0x10⁶', '1.0x10⁷', '1.2x10⁷'], minor: [9, 11] };

const panels = [
  { col: 0, row: 0, title: '500m', data: a500, trend: a500Trend, axis: a500Axis },
  { col: 0, row: 1, title: '400m', data: a400, trend: a400Trend, axis: a400Axis },
  { col: 0, row: 2, title: '300m', data: a300, trend: a300Trend, axis: a300Axis },
  { col: 0, row: 3, title: '200m', data: a200, trend: a200Trend, axis: a200Axis },
  { col: 0, row: 4, title: '100m', data: a100, trend: a100Trend, axis: a100Axis },
  { col: 0, row: 5, title: '50m', data: a50, trend: a50Trend, axis: a50Axis },
  { col: 1, row: 0, title: '500m', data: b500, trend: b500Trend, axis: b500Axis },
  { col: 1, row: 1, title: '400m', data: b400, trend: b400Trend, axis: b400Axis },
  { col: 1, row: 2, title: '300m', data: b300, trend: b300Trend, axis: b300Axis },
  { col: 1, row: 3, title: '200m', data: b200, trend: b200Trend, axis: b200Axis },
  { col: 1, row: 4, title: '100m', data: b100, trend: b100Trend, axis: b100Axis },
  { col: 1, row: 5, title: '50m', data: b50, trend: b50Trend, axis: b50Axis }
];

// layout of the plot areas on the page
const COL_X = [[107, 651], [752, 1343]];
const ROW_Y = [
  [[13, 94], [116, 198], [222, 303], [325, 407], [432, 512], [533, 617]],
  [[15, 97], [118, 200], [223, 304], [327, 407], [433, 513], [535, 617]]
];
const AXIS_W = [90, 100];
const X_MAX = [180, 198.7];
const TIMES = [timesA, timesB];
const UPPER = [[upperLongA, upperShortA], [upperLongB, upperShortB]];

// short unlabelled tick marks
const minorTicks = {
  id: 'minorTicks',
  afterDraw(chart, args, opts) {
    const ctx = chart.ctx;
    const xs = chart.scales.x, ys = chart.scales.y;
    ctx.save();
    ctx.strokeStyle = '#000';
    ctx.lineWidth = 2;
    (opts.x || []).forEach(v => {
      if (v > xs.max) return;
      const px = xs.getPixelForValue(v);
      ctx.beginPath(); ctx.moveTo(px, xs.top); ctx.lineTo(px, xs.top + opts.xLen); ctx.stroke();
    });
    (opts.y || []).forEach(v => {
      if (v > ys.max) return;
      const py = ys.getPixelForValue(v);
      ctx.beginPath(); ctx.moveTo(ys.right, py); ctx.lineTo(ys.right - opts.yLen, py); ctx.stroke();
    });
    ctx.restore();
  }
};
Chart.register(minorTicks);
Chart.defaults.font.family = '"Liberation Sans", Arial, sans-serif';
Chart.defaults.color = '#000';

panels.forEach(p => {
  const [x0, x1] = COL_X[p.col];
  const [y0, y1] = ROW_Y[p.col][p.row];
  const bottom = p.row === 5;
  const axisW = AXIS_W[p.col];
  const axisH = bottom ? 692 - y1 : 10;
  const padTop = 10, padRight = 6;
  const w = axisW + (x1 - x0) + padRight;
  const h = padTop + (y1 - y0) + axisH;

  const canvas = document.createElement('canvas');
  canvas.width = w;
  canvas.height = h;
  canvas.style.left = (x0 - axisW) + 'px';
  canvas.style.top = (y0 - padTop) + 'px';
  canvas.style.width = w + 'px';
  canvas.style.height = h + 'px';
  document.body.appendChild(canvas);

  const times = TIMES[p.col];
  const xMajor = bottom ? times.map((t, i) => i * 15) : UPPER[p.col][0];
  const xMinor = bottom ? times.map((t, i) => i * 15 + 7.5) : UPPER[p.col][1];

  new Chart(canvas, {
    type: 'line',
    data: {
      datasets: [
        { data: p.trend, borderColor: '#2323ff', borderWidth: 3, borderDash: [0.1, 9], borderCapStyle: 'round', pointRadius: 0, tension: 0 },
        { data: p.data, borderColor: '#000', borderWidth: 2.5, pointRadius: 0, cubicInterpolationMode: 'monotone' }
      ]
    },
    options: {
      responsive: false,
      animation: false,
      devicePixelRatio: 1,
      layout: { padding: { top: padTop, right: padRight, left: 0, bottom: 0 } },
      plugins: {
        legend: { display: false },
        tooltip: { enabled: false },
        minorTicks: { x: xMinor, y: p.axis.minor, xLen: bottom ? 5 : 3, yLen: 3 }
      },
      scales: {
        x: {
          type: 'linear',
          min: 0,
          max: X_MAX[p.col],
          afterBuildTicks: ax => { ax.ticks = xMajor.map(v => ({ value: v })); },
          afterFit: ax => { ax.height = axisH; },
          grid: { display: true, drawOnChartArea: false, drawTicks: true, tickLength: 6, tickWidth: 2, tickColor: '#000' },
          border: { display: true, color: '#000', width: 2 },
          ticks: bottom
            ? { display: true, autoSkip: false, minRotation: 45, maxRotation: 45, padding: 2, font: { size: 16, weight: 'bold' }, callback: (v, i) => times[i] }
            : { display: false },
          title: bottom
            ? { display: true, text: 'Time (Hrs)', font: { size: 19, weight: 'bold' }, padding: { top: 0, bottom: 0 } }
            : { display: false }
        },
        y: {
          type: 'linear',
          min: p.axis.range[0],
          max: p.axis.range[1],
          afterBuildTicks: ax => { ax.ticks = p.axis.ticks.map(v => ({ value: v })); },
          afterFit: ax => { ax.width = axisW; },
          grid: { display: true, drawOnChartArea: false, drawTicks: true, tickLength: 6, tickWidth: 2, tickColor: '#000' },
          border: { display: true, color: '#000', width: 2 },
          ticks: { padding: 1, font: { size: 16, weight: 'bold' }, callback: (v, i) => p.axis.labels[i] },
          title: { display: true, text: p.title, font: { size: 16, weight: 'bold' }, padding: { top: 0, bottom: 0 } }
        }
      }
    }
  });
});
</script>
</body>
</html>
